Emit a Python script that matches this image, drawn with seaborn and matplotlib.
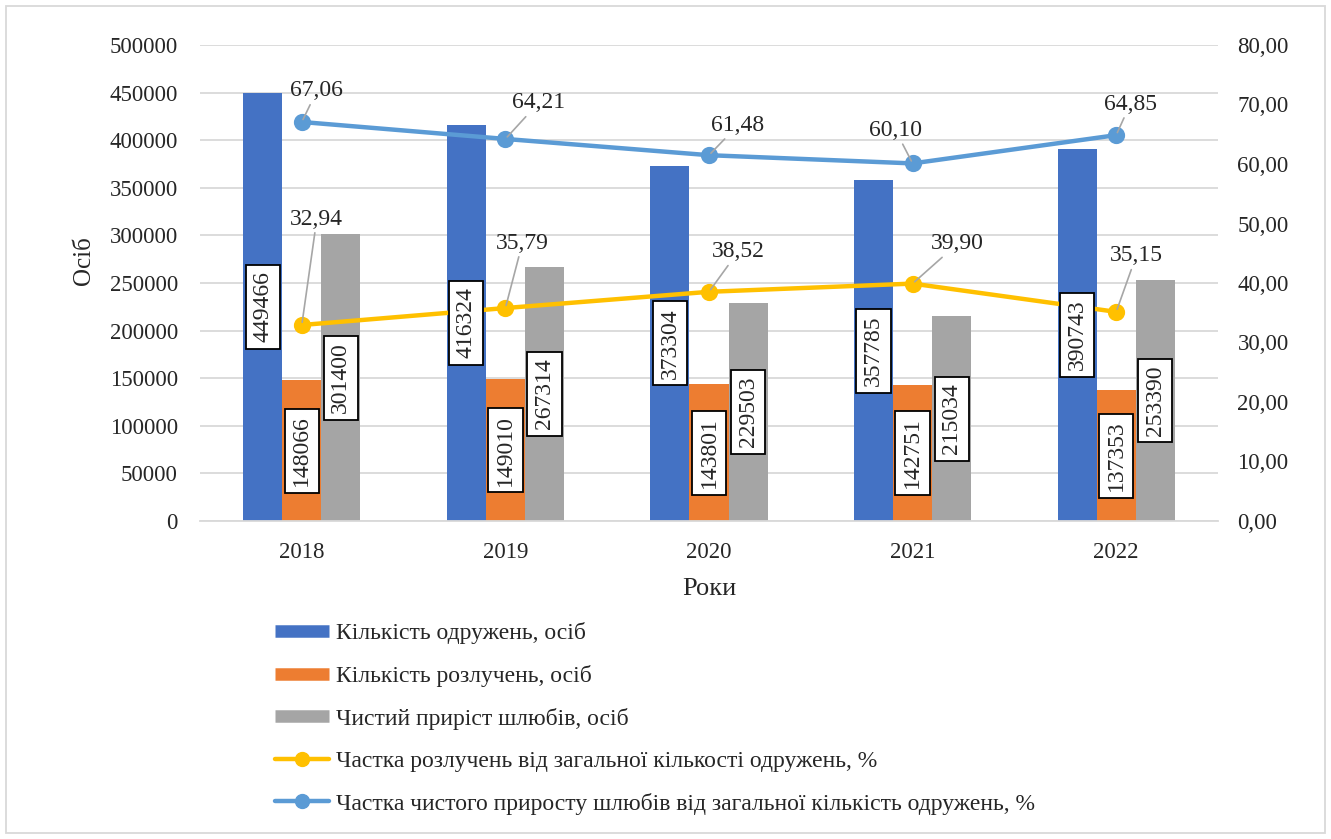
import pandas as pd
import matplotlib
matplotlib.use("Agg")
import matplotlib.pyplot as plt
import seaborn as sns
from matplotlib.lines import Line2D
from matplotlib.patches import Rectangle
from matplotlib.ticker import FuncFormatter, MultipleLocator

# дані
years = ["2018", "2019", "2020", "2021", "2022"]
marriages = [449466, 416324, 373304, 357785, 390743]
divorces = [148066, 149010, 143801, 142751, 137353]
net_growth = [301400, 267314, 229503, 215034, 253390]
divorce_share = [32.94, 35.79, 38.52, 39.90, 35.15]
net_share = [67.06, 64.21, 61.48, 60.10, 64.85]

bar_names = ["Кількість одружень, осіб", "Кількість розлучень, осіб", "Чистий приріст шлюбів, осіб"]
line_names = ["Частка розлучень від загальної кількості одружень, %",
              "Частка чистого приросту шлюбів від загальної кількість одружень, %"]
bar_colors = ["#4472C4", "#ED7D31", "#A5A5A5"]
line_colors = ["#FFC000", "#5B9BD5"]

# зсуви підписів ліній (пікселі)
div_offsets = [(15, 106), (17, 65), (29, 40), (45, 40), (20, 56)]
net_offsets = [(15, 31), (33, 36), (29, 30), (-17, 33), (14, 31)]

sns.set_style("white")
plt.rcParams['font.family'] = ['Liberation Serif', 'DejaVu Serif']
FS = 16.5
FS_LBL = 17

df = pd.DataFrame({
    "Рік": years * 3,
    "Значення": marriages + divorces + net_growth,
    "Показник": [bar_names[0]] * 5 + [bar_names[1]] * 5 + [bar_names[2]] * 5,
})
lines_df = pd.DataFrame({"Рік": years, "div": divorce_share, "net": net_share})

fig = plt.figure(figsize=(13.31, 8.39), dpi=100)
ax = fig.add_axes([200 / 1331, 1 - 521 / 839, 1018 / 1331, 476 / 839])

sns.barplot(data=df, x="Рік", y="Значення", hue="Показник", hue_order=bar_names,
            palette=bar_colors, width=0.575, saturation=1, linewidth=0,
            legend=False, ax=ax)

ax.set_ylim(0, 500000)
ax.yaxis.set_major_locator(MultipleLocator(50000))
ax.yaxis.grid(True, color="#D9D9D9", lw=1.3)
ax.set_axisbelow(True)
for s in ["top", "left", "right"]:
    ax.spines[s].set_visible(False)
ax.spines["bottom"].set_color("#D9D9D9")
ax.spines["bottom"].set_linewidth(1.3)
ax.tick_params(axis="y", length=0, pad=16, labelsize=FS)
ax.set_ylabel("Осіб", fontsize=18)
ax.yaxis.set_label_coords(-0.103, 0.546)

ax2 = ax.twinx()
sns.pointplot(data=lines_df, x="Рік", y="div", color=line_colors[0], markers="o",
              linestyles="-", errorbar=None, ax=ax2, linewidth=3.2, markersize=10)
sns.pointplot(data=lines_df, x="Рік", y="net", color=line_colors[1], markers="o",
              linestyles="-", errorbar=None, ax=ax2, linewidth=3.2, markersize=10)
ax2.set_ylim(0, 80)
ax2.yaxis.set_major_locator(MultipleLocator(10))
ax2.yaxis.set_major_formatter(FuncFormatter(lambda v, p: f"{v:.2f}".replace(".", ",")))
ax2.tick_params(axis="y", length=0, pad=14, labelsize=FS)
ax2.set_ylabel("")
ax2.grid(False)
for s in ["top", "left", "right", "bottom"]:
    ax2.spines[s].set_visible(False)

ax.set_xlim(-0.5, len(years) - 0.5)
ax.set_xticks(range(len(years)))
ax.set_xticklabels(years)
ax.set_xticks([i - 0.5 for i in range(len(years) + 1)], minor=True)
ax.tick_params(axis="x", which="major", length=0, pad=15, labelsize=FS)
ax.tick_params(axis="x", which="minor", length=5, width=1.3, color="#D9D9D9", direction="out")
ax.set_xlabel("Роки", fontsize=19, labelpad=11)

# підписи стовпців
for cont in ax.containers:
    for bar in cont:
        h = bar.get_height()
        ax2.text(bar.get_x() + bar.get_width() / 2, h / 2, f"{int(round(h))}",
                 transform=ax.transData, rotation=90, ha="center", va="center",
                 fontsize=FS_LBL, zorder=10,
                 bbox=dict(boxstyle="square,pad=0.28", fc="white", ec="black", lw=1.3))

# підписи ліній
for vals, offs in [(divorce_share, div_offsets), (net_share, net_offsets)]:
    for i, (v, o) in enumerate(zip(vals, offs)):
        ax2.annotate(f"{v:.2f}".replace(".", ","), xy=(i, v), xytext=o,
                     textcoords="offset pixels", ha="center", va="center", fontsize=FS_LBL,
                     arrowprops=dict(arrowstyle="-", color="#A6A6A6", lw=1.2,
                                     shrinkA=0, shrinkB=2))

handles = [Line2D([], [], color=c, lw=9, solid_capstyle="butt") for c in bar_colors]
handles += [Line2D([], [], color=c, lw=3.2, marker="o", markersize=10) for c in line_colors]
fig.legend(handles, bar_names + line_names, loc="upper left",
           bbox_to_anchor=(275 / 1331, 1 - 622 / 839), frameon=False, fontsize=FS_LBL,
           handlelength=2.3, handletextpad=0.3, labelspacing=0.88, borderpad=0,
           borderaxespad=0, numpoints=1)

fig.patches.append(Rectangle((6 / 1331, 6 / 839), 1319 / 1331, 827 / 839,
                             transform=fig.transFigure, fill=False,
                             edgecolor="#D9D9D9", lw=1.3))

fig.savefig("out.png", dpi=100)
